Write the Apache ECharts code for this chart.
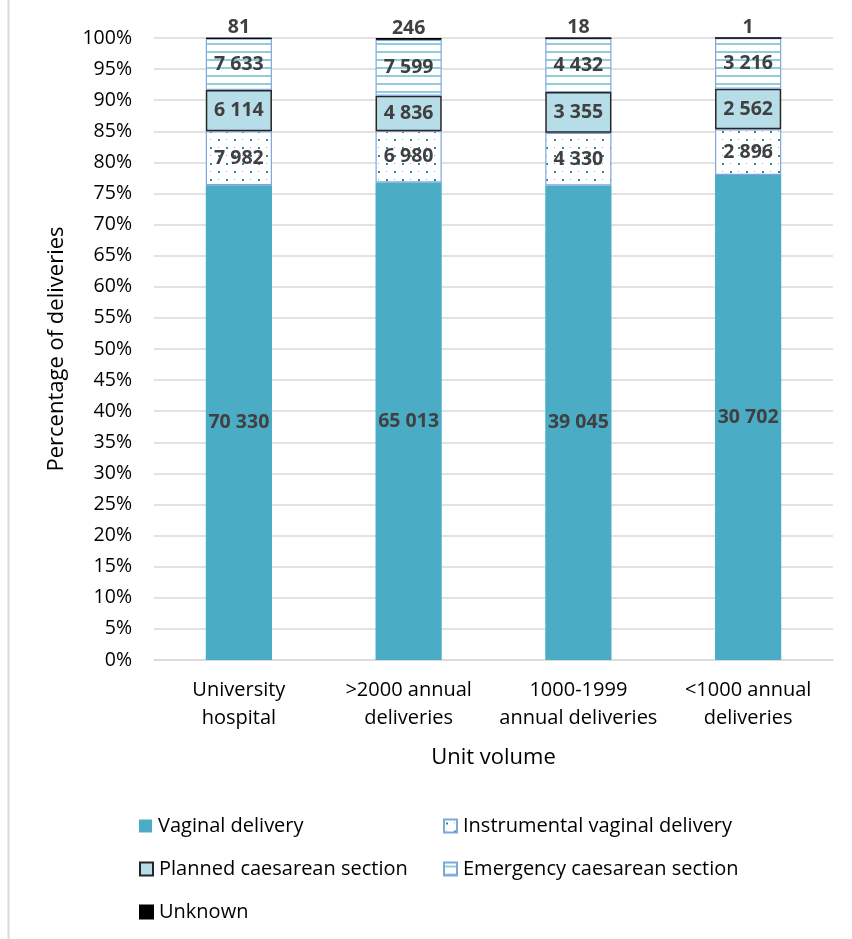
<!DOCTYPE html>
<html>
<head>
<meta charset="utf-8">
<script src="https://cdn.jsdelivr.net/npm/echarts@6/dist/echarts.min.js"></script>
<style>
html,body{margin:0;padding:0;background:#fff;}
#chart{width:852px;height:939px;}
</style>
</head>
<body>
<div id="chart"></div>
<script>
const categories = ['University\nhospital', '>2000 annual\ndeliveries', '1000-1999\nannual deliveries', '<1000 annual\ndeliveries'];
const vaginal = [70330, 65013, 39045, 30702];
const instrumental = [7982, 6980, 4330, 2896];
const planned = [6114, 4836, 3355, 2562];
const emergency = [7633, 7599, 4432, 3216];
const unknown = [81, 246, 18, 1];
const yTicks = ['0%','5%','10%','15%','20%','25%','30%','35%','40%','45%','50%','55%','60%','65%','70%','75%','80%','85%','90%','95%','100%'];

const FONT = 'Open Sans';
const totals = categories.map((_, i) => vaginal[i] + instrumental[i] + planned[i] + emergency[i] + unknown[i]);
const pct = arr => arr.map((v, i) => v / totals[i] * 100);
const fmt = v => String(v).replace(/\B(?=(\d{3})+(?!\d))/g, ' ');

function dotPattern() {
  const c = document.createElement('canvas');
  c.width = 16; c.height = 16;
  const g = c.getContext('2d');
  g.fillStyle = '#fff'; g.fillRect(0, 0, 16, 16);
  g.fillStyle = '#31859C';
  g.fillRect(2, 3, 2, 2);
  g.fillRect(10, 11, 2, 2);
  g.fillStyle = 'rgba(49,133,156,0.6)';
  g.fillRect(10, 3, 1, 1);
  g.fillRect(2, 11, 1, 1);
  return c;
}
function linePattern() {
  const c = document.createElement('canvas');
  c.width = 8; c.height = 8;
  const g = c.getContext('2d');
  g.fillStyle = '#fff'; g.fillRect(0, 0, 8, 8);
  g.fillStyle = '#92CDDC';
  g.fillRect(0, 3, 8, 2);
  return c;
}

const labelStyle = {
  show: true, position: 'inside', color: '#404040', fontWeight: 'bold',
  fontSize: 19.5, fontFamily: FONT
};
function mk(name, arr, itemStyle, labelPos) {
  return {
    name, type: 'bar', stack: 'all', barWidth: '39%',
    data: pct(arr),
    itemStyle,
    label: Object.assign({}, labelStyle, {
      position: labelPos || 'inside',
      distance: 0,
      formatter: p => fmt(arr[p.dataIndex])
    }),
    emphasis: { disabled: true }
  };
}

const chart = echarts.init(document.getElementById('chart'));
const legendBase = {
  itemWidth: 13, itemHeight: 13, itemGap: 0, icon: 'rect',
  textStyle: { fontSize: 20, fontFamily: FONT, color: '#000', padding: [0, 0, 0, 1] },
  selectedMode: false, padding: 0
};
chart.setOption({
  animation: false,
  backgroundColor: '#fff',
  grid: { left: 154, right: 19, top: 38, bottom: 279, containLabel: false },
  xAxis: {
    type: 'category', data: categories,
    axisLine: { lineStyle: { color: '#d9d9d9', width: 1.5 } },
    axisTick: { show: false },
    axisLabel: { color: '#000', fontSize: 20, fontFamily: FONT, lineHeight: 28, margin: 16, interval: 0 },
    name: 'Unit volume', nameLocation: 'middle', nameGap: 87,
    nameTextStyle: { fontSize: 22, fontFamily: FONT, color: '#000' }
  },
  yAxis: {
    type: 'value', min: 0, max: 100, interval: 5,
    axisLine: { show: false }, axisTick: { show: false },
    axisLabel: { formatter: v => yTicks[Math.round(v / 5)], color: '#000', fontSize: 19.5, fontFamily: FONT, margin: 22 },
    splitLine: { lineStyle: { color: '#d9d9d9', width: 1.5 } },
    name: 'Percentage of deliveries', nameLocation: 'middle', nameGap: 86,
    nameTextStyle: { fontSize: 22, fontFamily: FONT, color: '#000' }
  },
  legend: [
    Object.assign({}, legendBase, { data: ['Vaginal delivery'], left: 139, top: 816 }),
    Object.assign({}, legendBase, { data: ['Instrumental vaginal delivery'], left: 443, top: 816 }),
    Object.assign({}, legendBase, { data: ['Planned caesarean section'], left: 139, top: 859 }),
    Object.assign({}, legendBase, { data: ['Emergency caesarean section'], left: 443, top: 859 }),
    Object.assign({}, legendBase, { data: ['Unknown'], left: 139, top: 902 })
  ],
  graphic: [{
    type: 'line', shape: { x1: 8.5, y1: 0, x2: 8.5, y2: 939 },
    style: { stroke: '#d9d9d9', lineWidth: 2 }, silent: true
  }],
  series: [
    mk('Vaginal delivery', vaginal, { color: '#4BACC6' }),
    mk('Instrumental vaginal delivery', instrumental, { color: { image: dotPattern(), repeat: 'repeat' }, borderColor: '#7FA7DC', borderWidth: 1.2 }),
    mk('Planned caesarean section', planned, { color: '#B7DEE8', borderColor: '#262626', borderWidth: 1.5 }),
    mk('Emergency caesarean section', emergency, { color: { image: linePattern(), repeat: 'repeat' }, borderColor: '#7FA7DC', borderWidth: 1.2 }),
    mk('Unknown', unknown, { color: '#000', borderColor: '#000', borderWidth: 1 }, 'top')
  ]
});
</script>
</body>
</html>
